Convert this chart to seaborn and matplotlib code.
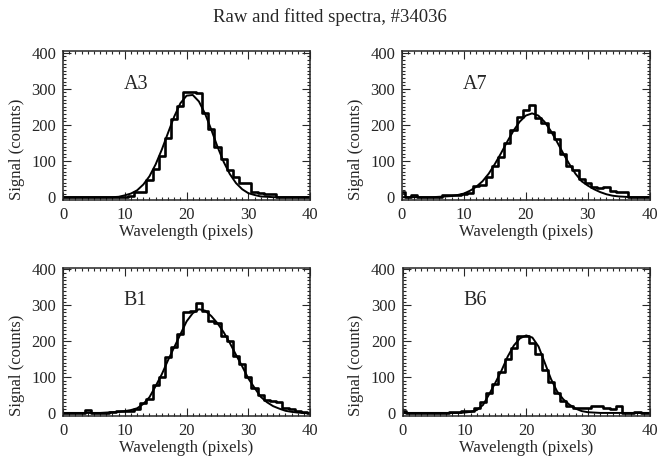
import numpy as np
import pandas as pd
import seaborn as sns
import matplotlib.pyplot as plt
from matplotlib.ticker import MultipleLocator

# Raw spectra (step histogram) and fitted curves for four channels

pixels = list(range(41))

a3_raw = [0, 0, 0, 0, 0, 0, 0, 0, 0, 0, 0, 2, 15, 15, 47, 79, 115, 165, 216,
          252, 292, 292, 288, 234, 188, 138, 106, 74, 55, 40, 38, 14, 12, 8,
          8, 0, 0, 0, 0, 0, 0]
a3_fit = [0, 0, 0, 0, 0, 0, 0, 0, 0, 1, 5, 10, 19, 35, 58, 91, 132, 178, 223,
          260, 281, 283, 265, 231, 187, 140, 98, 64, 39, 22, 11, 6, 2, 1, 0,
          0, 0, 0, 0, 0, 0]

a7_raw = [15, 0, 5, 0, 0, 0, 0, 5, 5, 5, 8, 12, 30, 35, 55, 85, 110, 150, 185,
          222, 240, 254, 220, 205, 180, 160, 120, 85, 75, 50, 40, 28, 25, 28,
          18, 15, 15, 0, 0, 0, 0]
a7_fit = [0, 0, 0, 0, 0, 0, 1, 2, 3, 6, 10, 18, 29, 44, 65, 92, 122, 154, 184,
          209, 226, 232, 226, 209, 184, 154, 122, 92, 65, 44, 32, 22, 14, 8,
          4, 2, 1, 0, 0, 0, 0]

b1_raw = [0, 0, 0, 0, 8, 0, 0, 0, 3, 5, 5, 5, 12, 28, 40, 78, 100, 155, 185,
          220, 282, 285, 305, 285, 255, 250, 215, 200, 160, 135, 100, 70, 50,
          35, 32, 30, 15, 12, 5, 3, 0]
b1_fit = [0, 0, 0, 0, 0, 0, 0, 1, 2, 3, 5, 8, 13, 25, 44, 75, 108, 147, 183,
          219, 255, 278, 289, 285, 270, 250, 225, 195, 162, 130, 96, 70, 45,
          30, 19, 12, 6, 3, 1, 0, 0]

b6_raw = [4, 0, 0, 0, 0, 0, 0, 0, 2, 3, 5, 5, 15, 30, 55, 80, 115, 150, 180,
          215, 215, 195, 165, 120, 85, 55, 32, 18, 15, 15, 15, 20, 20, 14, 10,
          20, 0, 0, 3, 0, 0]
b6_fit = [0, 0, 0, 0, 0, 0, 0, 0, 0, 0, 1, 3, 8, 22, 52, 84, 118, 157, 188,
          208, 216, 210, 185, 140, 95, 60, 38, 23, 12, 5, 2, 1, 0, 0, 0, 0, 0,
          0, 0, 0, 0]

panels = [('A3', a3_raw, a3_fit), ('A7', a7_raw, a7_fit),
          ('B1', b1_raw, b1_fit), ('B6', b6_raw, b6_fit)]

sns.set_style('ticks')
plt.rcParams['font.family'] = ['Liberation Serif', 'DejaVu Serif']

fig = plt.figure(figsize=(6.59, 4.62), dpi=100)

# Axes boxes (left, bottom, width, height) in figure fraction
boxes = [[0.0956, 0.567, 0.375, 0.322], [0.610, 0.567, 0.376, 0.322],
         [0.0956, 0.100, 0.375, 0.320], [0.611, 0.100, 0.375, 0.320]]

for (name, raw, fit), box in zip(panels, boxes):
    ax = fig.add_axes(box)
    dtf = pd.DataFrame({'Pixel': pixels, 'Raw': raw, 'Fit': fit})

    # Raw spectrum as histogram steps
    sns.lineplot(data=dtf, x='Pixel', y='Raw', ax=ax, color='black',
                 lw=1.9, drawstyle='steps-mid')
    # Fitted curve
    sns.lineplot(data=dtf, x='Pixel', y='Fit', ax=ax, color='black', lw=1.4)

    ax.set_xlim(0, 40)
    ax.set_ylim(-8, 404)
    ax.xaxis.set_major_locator(MultipleLocator(10))
    ax.xaxis.set_minor_locator(MultipleLocator(1))
    ax.yaxis.set_major_locator(MultipleLocator(100))
    ax.yaxis.set_minor_locator(MultipleLocator(10))
    ax.tick_params(which='both', direction='in', top=True, right=True,
                   labelsize=12, width=0.8)
    ax.tick_params(which='major', length=6, pad=5)
    ax.tick_params(which='minor', length=2.5)
    for sp in ax.spines.values():
        sp.set_linewidth(1.1)

    ax.set_xlabel('Wavelength (pixels)', fontsize=12, labelpad=1)
    ax.set_ylabel('Signal (counts)', fontsize=12)
    # y title sits a bit below the middle of the box
    ax.yaxis.set_label_coords(-0.155, 0.34)
    ax.text(9.8, 313, name, fontsize=14.5, va='center', ha='left')

fig.text(0.5, 0.962, 'Raw and fitted spectra, #34036', ha='center',
         va='center', fontsize=13.5)

fig.savefig('out.png', dpi=100)
